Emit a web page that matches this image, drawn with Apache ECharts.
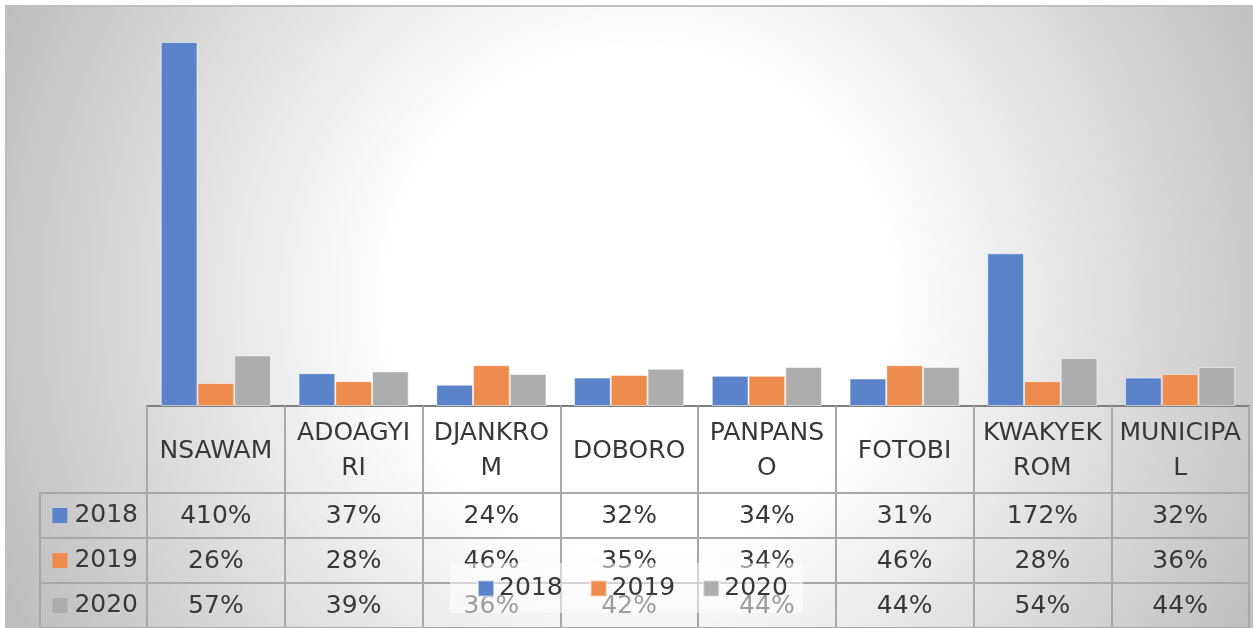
<!DOCTYPE html>
<html>
<head>
<meta charset="utf-8">
<script src="https://cdn.jsdelivr.net/npm/echarts@6/dist/echarts.min.js"></script>
<style>
html, body { margin: 0; padding: 0; background: #fff; }
#main { width: 1253px; height: 628px; }
</style>
</head>
<body>
<div id="main"></div>
<script>
var categories = ['NSAWAM', 'ADOAGYIRI', 'DJANKROM', 'DOBORO', 'PANPANSO', 'FOTOBI', 'KWAKYEKROM', 'MUNICIPAL'];
var headerLabels = ['NSAWAM', 'ADOAGYI\nRI', 'DJANKRO\nM', 'DOBORO', 'PANPANS\nO', 'FOTOBI', 'KWAKYEK\nROM', 'MUNICIPA\nL'];
var years = ['2018', '2019', '2020'];
var values2018 = [410, 37, 24, 32, 34, 31, 172, 32];
var values2019 = [26, 28, 46, 35, 34, 46, 28, 36];
var values2020 = [57, 39, 36, 42, 44, 44, 54, 44];

var colors = ['#5b83c9', '#ee8c4e', '#adadad'];
var textColor = '#383838';
var lineColor = '#a8a8a8';
var font = 'DejaVu Sans';

var myChart = echarts.init(document.getElementById('main'));

var allValues = [values2018, values2019, values2020];

var barSeries = years.map(function (y, i) {
    return {
        name: y,
        type: 'bar',
        xAxisIndex: 0,
        yAxisIndex: 0,
        barGap: '0%',
        barCategoryGap: '20%',
        itemStyle: { color: colors[i], borderColor: 'rgba(255,255,255,0.55)', borderWidth: 1 },
        emphasis: { disabled: true },
        data: allValues[i]
    };
});

// table cells: one text series per year row
var tableSeries = years.map(function (y, i) {
    return {
        name: 'table' + y,
        type: 'scatter',
        xAxisIndex: 1,
        yAxisIndex: 1,
        symbol: 'rect',
        symbolSize: 1,
        silent: true,
        itemStyle: { color: 'rgba(0,0,0,0)' },
        label: {
            show: true,
            position: 'inside',
            offset: [0, 1],
            fontFamily: font,
            fontSize: 25,
            color: textColor,
            opacity: 1,
            textBorderWidth: 0,
            formatter: function (p) { return p.value[2] + '%'; }
        },
        emphasis: { disabled: true },
        data: allValues[i].map(function (v, c) { return [c, i, v]; })
    };
});

var richYears = { t: { fontFamily: font, fontSize: 25, color: textColor, padding: [0, 0, 0, 7] } };
colors.forEach(function (c, i) {
    richYears['s' + i] = { width: 15, height: 15, backgroundColor: c };
});

var option = {
    animation: false,
    backgroundColor: '#ffffff',
    textStyle: { fontFamily: font },
    graphic: [
        {
            type: 'rect',
            z: -10,
            shape: { x: 6, y: 6, width: 1250, height: 625 },
            style: {
                fill: new echarts.graphic.RadialGradient(640, 300, 700, [
                    { offset: 0, color: '#ffffff' },
                    { offset: 0.36, color: '#ffffff' },
                    { offset: 1, color: '#bdbdbd' }
                ], true),
                stroke: '#bfbfbf',
                lineWidth: 2
            }
        },
        {
            type: 'line',
            z: 10,
            shape: { x1: 40, y1: 492, x2: 40, y2: 628 },
            style: { stroke: lineColor, lineWidth: 2 }
        }
    ],
    legend: {
        data: years,
        left: 450,
        top: 563,
        icon: 'rect',
        itemWidth: 16,
        itemHeight: 16,
        itemGap: 27,
        padding: [13, 15, 12, 27],
        backgroundColor: 'rgba(255,255,255,0.5)',
        textStyle: { fontFamily: font, fontSize: 25, color: textColor },
        selectedMode: false,
        z: 20
    },
    grid: [
        { left: 147, right: 4, top: 42, bottom: 222 },
        { left: 147, right: 4, top: 493, height: 136 }
    ],
    xAxis: [
        {
            type: 'category',
            gridIndex: 0,
            data: headerLabels,
            axisLine: { lineStyle: { color: '#808080', width: 2 } },
            axisTick: { show: true, interval: 0, length: 87, lineStyle: { color: lineColor, width: 2 } },
            axisLabel: {
                interval: 0,
                margin: 45,
                verticalAlign: 'middle',
                fontFamily: font,
                fontSize: 25,
                lineHeight: 35,
                color: textColor
            },
            splitLine: { show: false }
        },
        {
            type: 'category',
            gridIndex: 1,
            position: 'top',
            data: categories,
            axisLine: { lineStyle: { color: lineColor, width: 2 } },
            axisTick: { show: false },
            axisLabel: { show: false },
            splitLine: { show: true, interval: 0, lineStyle: { color: lineColor, width: 2 } }
        }
    ],
    yAxis: [
        {
            type: 'value',
            gridIndex: 0,
            min: 0,
            max: 410,
            show: false
        },
        {
            type: 'category',
            gridIndex: 1,
            inverse: true,
            data: years,
            axisLine: { show: true, lineStyle: { color: lineColor, width: 2 } },
            axisTick: { show: true, interval: 0, length: 107, lineStyle: { color: lineColor, width: 2 } },
            splitLine: { show: true, interval: 0, lineStyle: { color: lineColor, width: 2 } },
            axisLabel: {
                margin: 9,
                formatter: function (value, index) {
                    return '{s' + index + '| }{t|' + value + '}';
                },
                rich: richYears
            }
        }
    ],
    series: barSeries.concat(tableSeries)
};

myChart.setOption(option);
</script>
</body>
</html>
